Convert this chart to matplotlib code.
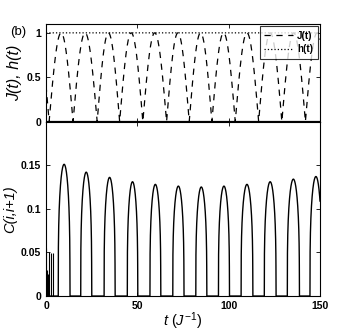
import numpy as np
import matplotlib
matplotlib.use("Agg")
import matplotlib.pyplot as plt

plt.rcParams['font.family'] = ['Liberation Sans', 'DejaVu Sans']
plt.rcParams['mathtext.fontset'] = 'custom'
plt.rcParams['mathtext.it'] = 'Liberation Sans:italic'
plt.rcParams['mathtext.rm'] = 'Liberation Sans'

# J(t): times where the coupling touches zero
j_zero_t = [-11.0, 1.7, 14.8, 28.0, 40.3, 53.0, 66.0, 78.4, 90.8,
            103.6, 116.4, 129.1, 142.0, 154.8]
h_value = 1.0

# C(i,i+1): arches (start, end, height)
c_start = [6.7, 19.0, 31.8, 44.5, 56.9, 69.4, 82.0, 94.4, 106.8, 119.5, 132.1, 144.5]
c_end = [13.1, 25.0, 37.8, 50.2, 62.8, 75.5, 88.0, 100.4, 113.2, 125.9, 138.7, 151.0]
c_peak = [0.151, 0.142, 0.136, 0.131, 0.128, 0.126, 0.125, 0.126, 0.128, 0.131, 0.134, 0.137]
# narrow early spikes near t = 0
spike_t = [0.15, 0.5, 0.9, 1.2, 1.9, 2.8, 4.0]
spike_h = [0.055, 0.03, 0.025, 0.02, 0.050, 0.049, 0.049]

t = np.linspace(0, 150, 6001)

J = np.zeros_like(t)
for a, b in zip(j_zero_t[:-1], j_zero_t[1:]):
    m = (t >= a) & (t <= b)
    J[m] = np.abs(np.sin(np.pi * (t[m] - a) / (b - a)))

C = np.zeros_like(t)
for a, b, h in zip(c_start, c_end, c_peak):
    m = (t >= a) & (t <= b)
    C[m] = h * np.sin(np.pi * (t[m] - a) / (b - a)) ** 0.3

fig = plt.figure(figsize=(3.54, 3.33), dpi=100)
ax1 = fig.add_axes([0.130, 0.635, 0.774, 0.293])
ax2 = fig.add_axes([0.130, 0.111, 0.774, 0.524])

ax1.plot(t, J, 'k--', lw=0.9, dashes=(5, 4.5), label='J(t)')
ax1.plot(t, np.full_like(t, h_value), 'k:', lw=0.9, label='h(t)')
ax1.axhline(0, color='k', lw=1.6)
ax1.set_xlim(0, 150)
ax1.set_ylim(0, 1.1)
ax1.set_yticks([0, 0.5, 1])
ax1.set_yticklabels(['0', '0.5', '1'])
ax1.set_xticks([0, 50, 100, 150])
ax1.set_xticklabels([])
ax1.set_ylabel('J(t), h(t)', fontsize=11.5, fontstyle='italic', labelpad=3)
leg = ax1.legend(loc='upper right', fontsize=7, frameon=True, fancybox=False,
                 edgecolor='k', handlelength=3.0, borderpad=0.45, labelspacing=0.35,
                 handletextpad=0.4, borderaxespad=0.25)
leg.get_frame().set_linewidth(0.8)
for txt in leg.get_texts():
    txt.set_fontweight('bold')

ax2.plot(t, C, 'k-', lw=1.0)
ax2.vlines(spike_t, 0, spike_h, color='k', lw=0.8)
ax2.set_xlim(0, 150)
ax2.set_ylim(0, 0.2)
ax2.set_yticks([0, 0.05, 0.1, 0.15])
ax2.set_yticklabels(['0', '0.05', '0.1', '0.15'])
ax2.set_xticks([0, 50, 100, 150])
ax2.set_ylabel('C(i,i+1)', fontsize=10.5, fontstyle='italic', labelpad=3)
ax2.set_xlabel('$t\\ (J^{-1})$', fontsize=10.5, labelpad=0)

for ax in (ax1, ax2):
    ax.tick_params(direction='in', top=True, right=True, length=3, width=0.6,
                   labelsize=7.5)
    for lab in ax.get_xticklabels() + ax.get_yticklabels():
        lab.set_fontweight('bold')
    for sp in ax.spines.values():
        sp.set_linewidth(0.8)

fig.text(0.028, 0.905, '(b)', fontsize=9.5, ha='left', va='center')

fig.savefig('out.png', dpi=100)
